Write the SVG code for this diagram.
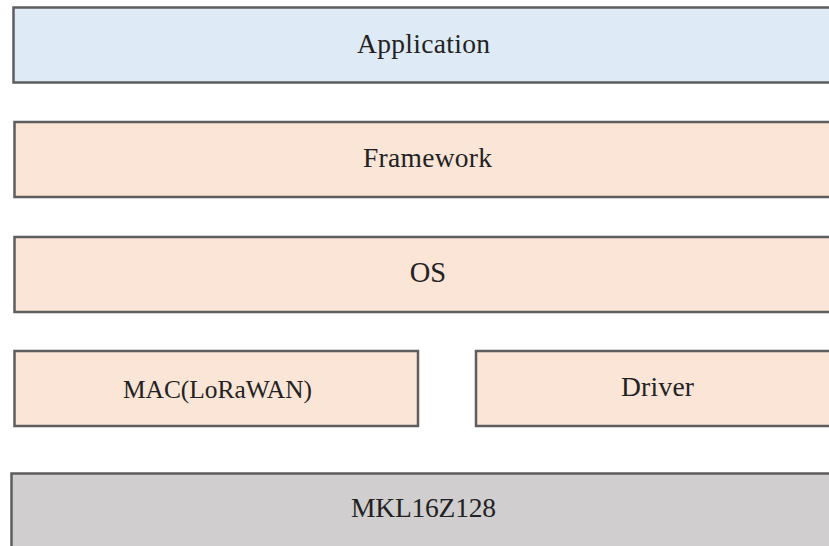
<svg xmlns="http://www.w3.org/2000/svg" width="829" height="546" viewBox="0 0 829 546">
<style>
.box{stroke:#5e5e5e;stroke-width:2.5}
.blue{fill:#deeaf6}
.peach{fill:#fbe5d6}
.gray{fill:#d0cece}
.t{font-family:"Liberation Serif","Times New Roman",serif;font-size:27.5px;fill:#222222;text-anchor:start}
</style>
<rect width="829" height="546" fill="#ffffff"/>
<g id="application">
<rect class="box blue" x="13.5" y="7.5" width="830" height="75"/>
<text class="t" x="357" y="53" textLength="133" lengthAdjust="spacing">Application</text>
</g>
<g id="framework">
<rect class="box peach" x="14.5" y="122" width="830" height="75"/>
<text class="t" x="363" y="167" textLength="129" lengthAdjust="spacing">Framework</text>
</g>
<g id="os">
<rect class="box peach" x="14.5" y="237" width="830" height="75"/>
<text class="t" x="428" y="282" style="text-anchor:middle;font-size:28.5px">OS</text>
</g>
<g id="mac">
<rect class="box peach" x="14.5" y="351" width="403.5" height="75"/>
<text class="t" x="123" y="398" style="font-size:25.5px" textLength="189" lengthAdjust="spacingAndGlyphs">MAC(LoRaWAN)</text>
</g>
<g id="driver">
<rect class="box peach" x="476" y="351" width="370" height="75"/>
<text class="t" x="621" y="396" textLength="73" lengthAdjust="spacing">Driver</text>
</g>
<g id="mkl16z128">
<rect class="box gray" x="11.5" y="473.5" width="830" height="90"/>
<text class="t" x="351" y="517" textLength="145" lengthAdjust="spacing">MKL16Z128</text>
</g>
<g id="connectors"></g>
</svg>
